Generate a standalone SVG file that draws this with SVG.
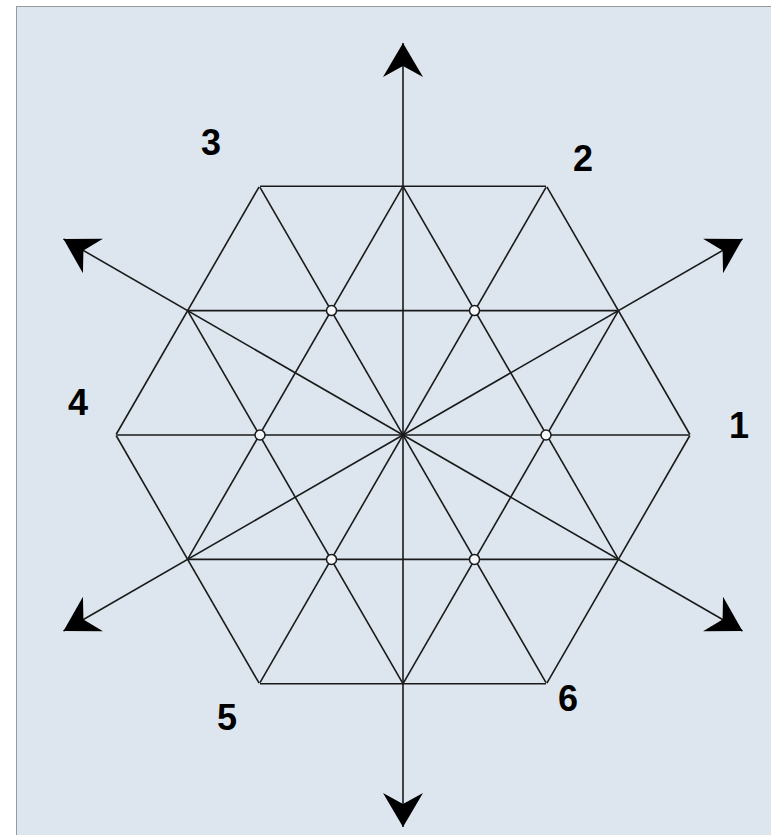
<svg xmlns="http://www.w3.org/2000/svg" width="771" height="835" viewBox="0 0 771 835">
<style>
.ln{stroke:#1a1a1a;stroke-width:1.6;fill:none}
.ax{stroke:#1a1a1a;stroke-width:1.6;fill:none;marker-end:url(#ah)}
.nd{fill:#f4f7fa;stroke:#1a1a1a;stroke-width:1.5}
.lb{font-family:"Liberation Sans",Arial,sans-serif;font-weight:bold;font-size:36px;fill:#000;text-anchor:middle}
</style>
<defs>
<marker id="ah" markerUnits="userSpaceOnUse" markerWidth="40" markerHeight="44" viewBox="-36 -22 38 44" refX="0" refY="0" orient="auto">
<polygon points="0,0 -34,-20 -23,0 -34,20" fill="#000"/>
</marker>
</defs>
<rect x="16.5" y="6.5" width="760" height="835" fill="#dde6ee" stroke="#9a9a9a" stroke-width="1"/>
<g id="grid">
<g id="fam0">
<line class="ln" x1="260" y1="186.3" x2="546" y2="186.3"/>
<line class="ln" x1="188.5" y1="310.6" x2="617.5" y2="310.6"/>
<line class="ln" x1="117" y1="435" x2="689" y2="435"/>
<line class="ln" x1="188.5" y1="559.4" x2="617.5" y2="559.4"/>
<line class="ln" x1="260" y1="683.7" x2="546" y2="683.7"/>
</g>
<g transform="rotate(60 403 435)">
<line class="ln" x1="260" y1="186.3" x2="546" y2="186.3"/>
<line class="ln" x1="188.5" y1="310.6" x2="617.5" y2="310.6"/>
<line class="ln" x1="117" y1="435" x2="689" y2="435"/>
<line class="ln" x1="188.5" y1="559.4" x2="617.5" y2="559.4"/>
<line class="ln" x1="260" y1="683.7" x2="546" y2="683.7"/>
</g>
<g transform="rotate(120 403 435)">
<line class="ln" x1="260" y1="186.3" x2="546" y2="186.3"/>
<line class="ln" x1="188.5" y1="310.6" x2="617.5" y2="310.6"/>
<line class="ln" x1="117" y1="435" x2="689" y2="435"/>
<line class="ln" x1="188.5" y1="559.4" x2="617.5" y2="559.4"/>
<line class="ln" x1="260" y1="683.7" x2="546" y2="683.7"/>
</g>
</g>
<g id="connectors">
<line class="ax" x1="403" y1="435" x2="403" y2="43"/>
<line class="ax" x1="403" y1="435" x2="403" y2="827"/>
<line class="ax" x1="403" y1="435" x2="742.5" y2="239"/>
<line class="ax" x1="403" y1="435" x2="63.5" y2="239"/>
<line class="ax" x1="403" y1="435" x2="63.5" y2="631"/>
<line class="ax" x1="403" y1="435" x2="742.5" y2="631"/>
</g>
<g id="n1"><circle class="nd" cx="546" cy="435" r="5"/></g>
<g id="n2"><circle class="nd" cx="474.5" cy="310.6" r="5"/></g>
<g id="n3"><circle class="nd" cx="331.5" cy="310.6" r="5"/></g>
<g id="n4"><circle class="nd" cx="260" cy="435" r="5"/></g>
<g id="n5"><circle class="nd" cx="331.5" cy="559.4" r="5"/></g>
<g id="n6"><circle class="nd" cx="474.5" cy="559.4" r="5"/></g>
<g id="labels">
<text class="lb" x="739" y="438">1</text>
<text class="lb" x="583" y="171">2</text>
<text class="lb" x="211" y="155">3</text>
<text class="lb" x="78" y="415">4</text>
<text class="lb" x="227" y="730">5</text>
<text class="lb" x="568" y="711">6</text>
</g>
</svg>
